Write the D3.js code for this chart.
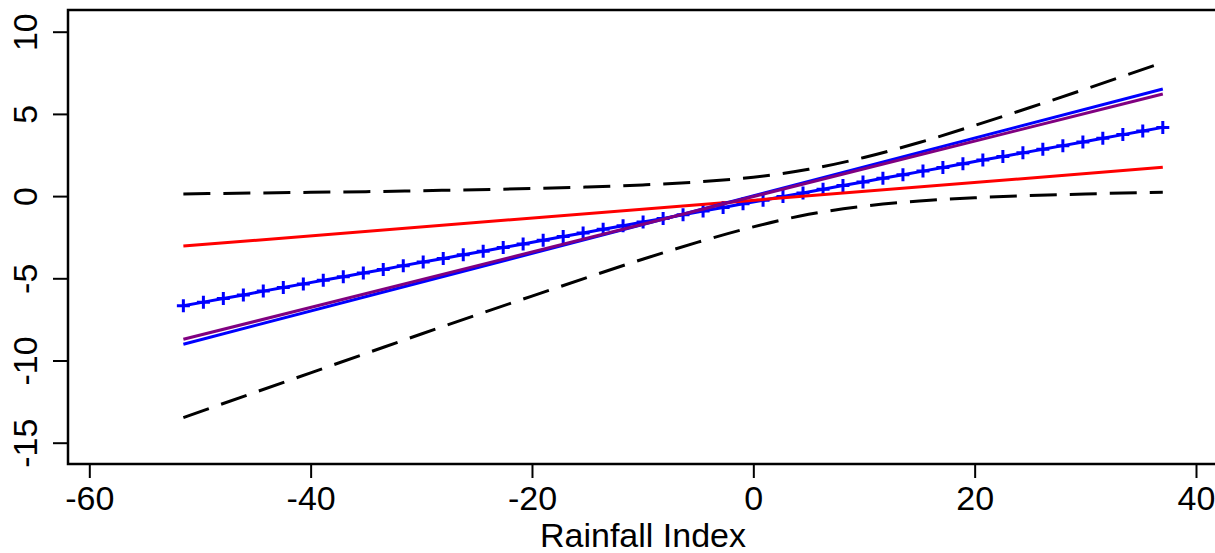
<!DOCTYPE html>
<html>
<head>
<meta charset="utf-8">
<script src="https://cdn.jsdelivr.net/npm/d3@7"></script>
<style>
  body { margin: 0; background: #fff; }
  svg { display: block; }
  text { font-family: "Liberation Sans", Arial, sans-serif; fill: #000; }
</style>
</head>
<body>
<svg width="1215" height="553"></svg>
<script>
// x grid for the confidence band
const bandX = [-51.5, -45, -40, -35, -30, -25, -20, -15, -10, -5, 0, 5, 10, 15, 20, 25, 30, 37];
const bandUpper = [0.13, 0.19, 0.23, 0.27, 0.33, 0.39, 0.46, 0.55, 0.68, 0.86, 1.15, 1.63, 2.35, 3.26, 4.30, 5.39, 6.51, 8.13];
const bandLower = [-13.47, -11.93, -10.75, -9.57, -8.39, -7.23, -6.08, -4.95, -3.84, -2.80, -1.87, -1.11, -0.61, -0.30, -0.10, 0.03, 0.13, 0.23];

// blue line with + markers
const crossX = [-51.50, -49.69, -47.89, -46.08, -44.28, -42.47, -40.66, -38.86, -37.05, -35.24,
  -33.44, -31.63, -29.83, -28.02, -26.21, -24.41, -22.60, -20.80, -18.99, -17.18,
  -15.38, -13.57, -11.77, -9.96, -8.15, -6.35, -4.54, -2.73, -0.93, 0.88,
  2.68, 4.49, 6.30, 8.10, 9.91, 11.71, 13.52, 15.33, 17.13, 18.94,
  20.74, 22.55, 24.36, 26.16, 27.97, 29.78, 31.58, 33.39, 35.19, 37.00];
const crossY = [-6.67, -6.45, -6.23, -6.01, -5.78, -5.56, -5.34, -5.12, -4.90, -4.68,
  -4.46, -4.23, -4.01, -3.79, -3.57, -3.35, -3.13, -2.91, -2.68, -2.46,
  -2.24, -2.02, -1.80, -1.58, -1.36, -1.13, -0.91, -0.69, -0.47, -0.25,
  -0.03, 0.19, 0.42, 0.64, 0.86, 1.08, 1.30, 1.52, 1.74, 1.97,
  2.19, 2.41, 2.63, 2.85, 3.07, 3.29, 3.52, 3.74, 3.96, 4.18];

// straight fitted lines (end points)
const lineX = [-51.5, 37];
const redY = [-3.04, 1.75];
const blueY = [-9.01, 6.51];
const purpleY = [-8.71, 6.21];

const xTicks = [-60, -40, -20, 0, 20, 40];
const yTicks = [-15, -10, -5, 0, 5, 10];
const xLabel = "Rainfall Index";

const svg = d3.select("svg");

// plot region (box runs off the right edge)
const box = { left: 68, top: 10, right: 1222, bottom: 464 };

const x = d3.scaleLinear().domain([-60, 40]).range([89.3, 1196]);
const y = d3.scaleLinear().domain([-15, 10]).range([442.7, 31.7]);

const g = svg.append("g");

// box
g.append("rect")
    .attr("x", box.left).attr("y", box.top)
    .attr("width", box.right - box.left).attr("height", box.bottom - box.top)
    .attr("fill", "none").attr("stroke", "#000").attr("stroke-width", 2.5);

// plain hyphen minus, like the original
const fmt = d => String(d);

// x axis
const xAxis = d3.axisBottom(x).tickValues(xTicks).tickSize(14).tickPadding(8).tickFormat(fmt);
const xg = g.append("g").attr("transform", `translate(0,${box.bottom})`).call(xAxis);
xg.select(".domain").remove();
xg.selectAll(".tick line").attr("stroke-width", 2);
xg.selectAll(".tick text").style("font-size", "34px").attr("dy", "0.71em");

// y axis (labels parallel to the axis)
const yAxis = d3.axisLeft(y).tickValues(yTicks).tickSize(15).tickFormat(fmt);
const yg = g.append("g").attr("transform", `translate(${box.left},0)`).call(yAxis);
yg.select(".domain").remove();
yg.selectAll(".tick line").attr("stroke-width", 2);
yg.selectAll(".tick text")
    .style("font-size", "34px")
    .attr("text-anchor", "middle")
    .attr("x", null).attr("dy", null)
    .attr("transform", "translate(-31,0) rotate(-90)");

// x label
svg.append("text")
    .attr("x", 643).attr("y", 547)
    .attr("text-anchor", "middle")
    .style("font-size", "34px")
    .text(xLabel);

const line = d3.line().x(d => x(d[0])).y(d => y(d[1]));
const smooth = d3.line().x(d => x(d[0])).y(d => y(d[1])).curve(d3.curveMonotoneX);

const plot = g.append("g");

// confidence band
[bandUpper, bandLower].forEach(vals => {
    plot.append("path")
        .datum(bandX.map((v, i) => [v, vals[i]]))
        .attr("d", smooth)
        .attr("fill", "none").attr("stroke", "#000")
        .attr("stroke-width", 3).attr("stroke-dasharray", "27,13");
});

// blue crossed line
const crossData = crossX.map((v, i) => [v, crossY[i]]);
plot.append("path").datum(crossData).attr("d", line)
    .attr("fill", "none").attr("stroke", "#0000ff").attr("stroke-width", 3);
plot.selectAll(".cross").data(crossData).enter().append("path")
    .attr("class", "cross")
    .attr("transform", d => `translate(${x(d[0])},${y(d[1])})`)
    .attr("d", "M-6.5,0H6.5M0,-6.5V6.5")
    .attr("stroke", "#0000ff").attr("stroke-width", 3);

// straight lines
[[redY, "#ff0000"], [blueY, "#0000ff"], [purpleY, "#800080"]].forEach(([vals, col]) => {
    plot.append("path")
        .datum(lineX.map((v, i) => [v, vals[i]]))
        .attr("d", line)
        .attr("fill", "none").attr("stroke", col).attr("stroke-width", 3);
});
</script>
</body>
</html>
